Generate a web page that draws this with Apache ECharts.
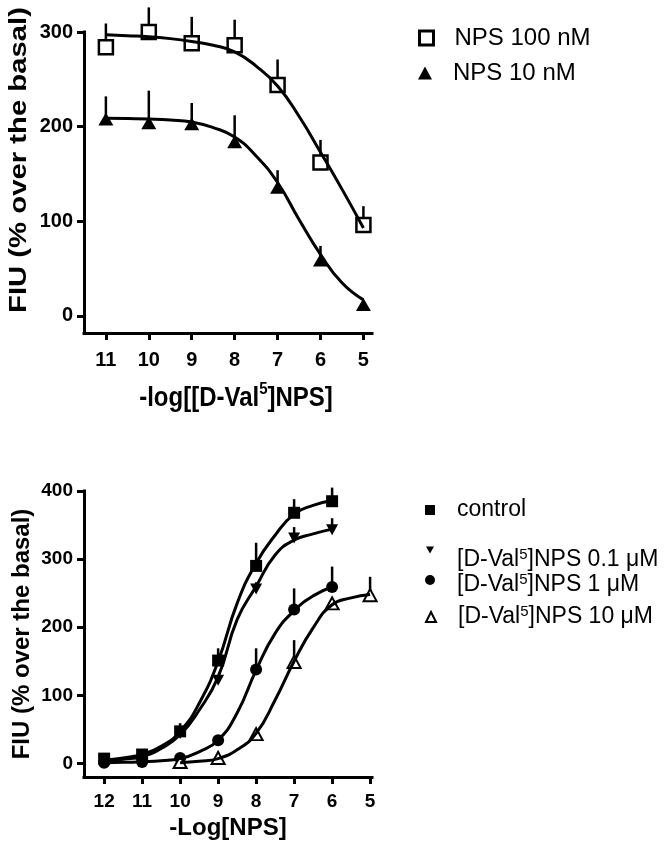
<!DOCTYPE html>
<html><head><meta charset="utf-8">
<script src="https://cdn.jsdelivr.net/npm/echarts@6/dist/echarts.min.js"></script>
<style>html,body{margin:0;padding:0;background:#fff}#c{width:671px;height:852px}</style>
</head><body><div id="c"></div>
<script>
const FONT = '"Liberation Sans", Arial, Helvetica, sans-serif';

// ---------- top panel ----------
const topTicksX = [11, 10, 9, 8, 7, 6, 5];
const topTicksY = [0, 100, 200, 300];
const topX = [11, 10, 9, 8, 7, 6, 5];
const nps100 = [284, 300, 288, 286, 244, 162, 96];
const nps100Top = [309, 326, 316, 313, 271, 186, 116];
const nps10 = [208, 204, 203, 184, 136, 59, 12];
const nps10Top = [232, 238, 225, 212, 154, 74, 14];
const topFitX = [11, 10.5, 10, 9.5, 9, 8.5, 8, 7.5, 7, 6.5, 6, 5.5, 5];
const nps100Fit = [297, 296, 295, 293, 290, 286, 279, 264, 243, 211, 173, 134, 93];
const nps10Fit = [209, 208.5, 208, 207, 205, 199, 189, 169, 141, 102, 65, 35, 17];

// ---------- bottom panel ----------
const botTicksX = [12, 11, 10, 9, 8, 7, 6, 5];
const botTicksY = [0, 100, 200, 300, 400];
const botX = [12, 11, 10, 9, 8, 7, 6];
const control = [7, 13, 47, 151, 290, 368, 385];
const controlTop = [9, 15, 59, 169, 324, 388, 405];
const dval01 = [3, 6, 44, 122, 256, 331, 343];
const dval01Top = [5, 8, 50, 128, 266, 347, 360];
const dval1 = [1, 2, 8, 34, 138, 226, 259];
const dval1Top = [3, 4, 10, 38, 169, 257, 289];
const dval10X = [10, 9, 8, 7, 6, 5];
const dval10 = [2, 8, 43, 149, 235, 247];
const dval10Top = [4, 10, 47, 181, 240, 274];
const botFitX = [12, 11.5, 11, 10.5, 10, 9.5, 9, 8.5, 8, 7.5, 7, 6.5, 6];
const controlFit = [5, 8, 13, 25, 47, 88, 150, 235, 294, 335, 366, 379, 386];
const dval01Fit = [3, 6, 10, 22, 42, 78, 127, 211, 260, 306, 328, 337, 344];
const dval1Fit = [1, 1.5, 2.5, 4, 7, 17, 34, 74, 137, 191, 224, 246, 259];
const dval10FitX = [10, 9.5, 9, 8.5, 8, 7.5, 7, 6.5, 6, 5.5, 5];
const dval10Fit = [1, 3, 7, 20, 44, 93, 150, 199, 233, 243, 248];

const zip = (xs, ys) => xs.map((x, i) => [x, ys[i]]);
const zip3 = (xs, ys, ts) => xs.map((x, i) => [x, ys[i], ts[i]]);

function errSeries(gi, xs, ys, ts) {
  return {
    type: 'custom', xAxisIndex: gi, yAxisIndex: gi, z: 1, silent: true,
    data: zip3(xs, ys, ts),
    encode: { x: 0, y: [1, 2] },
    renderItem: function (params, api) {
      const p1 = api.coord([api.value(0), api.value(1)]);
      const p2 = api.coord([api.value(0), api.value(2)]);
      return { type: 'line', shape: { x1: p1[0], y1: p1[1], x2: p2[0], y2: p2[1] },
               style: { stroke: '#000', lineWidth: 2.5 } };
    }
  };
}
function pts(gi, name, xs, ys, symbol, size, style, rot) {
  return { type: 'scatter', name: name, xAxisIndex: gi, yAxisIndex: gi, z: 2,
           symbol: symbol, symbolSize: size, symbolRotate: rot || 0,
           itemStyle: Object.assign({ opacity: 1 }, style), data: zip(xs, ys) };
}
function fit(gi, name, xs, ys) {
  return { type: 'line', name: name, xAxisIndex: gi, yAxisIndex: gi, z: 3,
           smooth: 0.5, showSymbol: false, symbol: 'none',
           lineStyle: { color: '#000', width: 3, opacity: 1 }, data: zip(xs, ys) };
}
function xAx(gi, min, max, ticks, fs, margin) {
  return { type: 'value', gridIndex: gi, inverse: true, min: min, max: max,
    axisLine: { show: true, onZero: false, lineStyle: { color: '#000', width: 3, cap: 'square' } },
    axisTick: { show: true, length: 7, customValues: ticks, lineStyle: { color: '#000', width: 3 } },
    axisLabel: { customValues: ticks, fontSize: fs, fontWeight: 'bold', color: '#000', fontFamily: FONT, margin: margin },
    splitLine: { show: false } };
}
function yAx(gi, min, max, ticks, fs, margin) {
  return { type: 'value', gridIndex: gi, min: min, max: max,
    axisLine: { show: true, onZero: false, lineStyle: { color: '#000', width: 3, cap: 'square' } },
    axisTick: { show: true, length: 7, customValues: ticks, lineStyle: { color: '#000', width: 3 } },
    axisLabel: { customValues: ticks, fontSize: fs, fontWeight: 'bold', color: '#000', fontFamily: FONT, margin: margin },
    splitLine: { show: false } };
}

const openStyle = { color: '#fff', borderColor: '#000', borderWidth: 2.5 };
const fillStyle = { color: '#000' };
const downTri = 'path://M0,0L10,0L5,9Z';

function lg(name, icon, style, left, top, iw, ih, fs, pad) {
  return {
    data: [{ name: name, icon: icon, itemStyle: Object.assign({ opacity: 1 }, style) }],
    orient: 'vertical', left: left, top: top, padding: 0,
    itemWidth: iw, itemHeight: ih, selectedMode: false,
    formatter: function (n) { return n.replace('Val5', 'Val{s|5}'); },
    textStyle: { fontFamily: FONT, fontSize: fs, color: '#000', lineHeight: 26, padding: pad,
                 rich: { s: { fontFamily: FONT, fontSize: 15, lineHeight: 15, verticalAlign: 'top', color: '#000' } } }
  };
}

const option = {
  animation: false,
  backgroundColor: '#fff',
  grid: [
    { left: 84, top: 32, width: 288, height: 301, containLabel: false, outerBoundsMode: 'none' },
    { left: 84, top: 491, width: 288, height: 286, containLabel: false, outerBoundsMode: 'none' }
  ],
  xAxis: [ xAx(0, 4.8, 11.51, topTicksX, 20, 17), xAx(1, 4.95, 12.53, botTicksX, 19, 15) ],
  yAxis: [ yAx(0, -18, 300, topTicksY, 20, 11), yAx(1, -20, 400, botTicksY, 19, 11) ],
  legend: [
    lg('NPS 100 nM', 'rect', { color: '#fff', borderColor: '#000', borderWidth: 3 }, 418, 25, 14, 14, 24, [0, 0, 0, 16]),
    lg('NPS 10 nM', 'triangle', fillStyle, 418, 60, 14, 13, 24, [0, 0, 0, 16]),
    lg('control', 'rect', fillStyle, 425, 497, 10, 10, 23, [0, 0, 0, 17]),
    lg('[D-Val5]NPS 0.1 μM', downTri, fillStyle, 426, 527, 8, 8, 23, [20, 0, 0, 18]),
    lg('[D-Val5]NPS 1 μM', 'circle', fillStyle, 425, 562, 10, 10, 23, [10, 0, 0, 17]),
    lg('[D-Val5]NPS 10 μM', 'triangle', { color: '#fff', borderColor: '#000', borderWidth: 2 }, 425, 604, 10, 10, 23, [0, 0, 0, 17])
  ],
  graphic: [
    { type: 'text', x: 19, y: 160, rotation: Math.PI / 2, scaleX: 1.22,
      style: { text: 'FIU (% over the basal)', fontFamily: FONT, fontWeight: 'bold', fontSize: 24, fill: '#000',
               align: 'center', verticalAlign: 'middle' } },
    { type: 'text', x: 236, y: 398, scaleY: 1.15,
      style: { text: '-log[[D-Val{s|5}]NPS]', fontFamily: FONT, fontWeight: 'bold', fontSize: 24, fill: '#000',
               lineHeight: 30, align: 'center', verticalAlign: 'middle',
               rich: { s: { fontFamily: FONT, fontWeight: 'bold', fontSize: 15, lineHeight: 16, verticalAlign: 'top', fill: '#000' } } } },
    { type: 'text', x: 22, y: 634, rotation: Math.PI / 2,
      style: { text: 'FIU (% over the basal)', fontFamily: FONT, fontWeight: 'bold', fontSize: 24, fill: '#000',
               align: 'center', verticalAlign: 'middle' } },
    { type: 'text', x: 228, y: 828,
      style: { text: '-Log[NPS]', fontFamily: FONT, fontWeight: 'bold', fontSize: 24, fill: '#000',
               align: 'center', verticalAlign: 'middle' } }
  ],
  series: [
    errSeries(0, topX, nps100, nps100Top),
    errSeries(0, topX, nps10, nps10Top),
    pts(0, 'NPS 100 nM', topX, nps100, 'rect', 14, openStyle),
    pts(0, 'NPS 10 nM', topX, nps10, 'triangle', [15, 13], fillStyle),
    fit(0, 'fit100', topFitX, nps100Fit),
    fit(0, 'fit10', topFitX, nps10Fit),

    errSeries(1, botX, control, controlTop),
    errSeries(1, botX, dval01, dval01Top),
    errSeries(1, botX, dval1, dval1Top),
    errSeries(1, dval10X, dval10, dval10Top),
    pts(1, 'control', botX, control, 'rect', 12, fillStyle),
    pts(1, '[D-Val5]NPS 0.1 μM', botX, dval01, 'triangle', [12, 11], fillStyle, 180),
    pts(1, '[D-Val5]NPS 1 μM', botX, dval1, 'circle', 12, fillStyle),
    pts(1, '[D-Val5]NPS 10 μM', dval10X, dval10, 'triangle', [13, 12], { color: '#fff', borderColor: '#000', borderWidth: 2 }),
    fit(1, 'fitc', botFitX, controlFit),
    fit(1, 'fit01', botFitX, dval01Fit),
    fit(1, 'fit1', botFitX, dval1Fit),
    fit(1, 'fit10u', dval10FitX, dval10Fit)
  ]
};
const chart = echarts.init(document.getElementById('c'), null, { renderer: 'canvas' });
chart.setOption(option);
</script></body></html>
